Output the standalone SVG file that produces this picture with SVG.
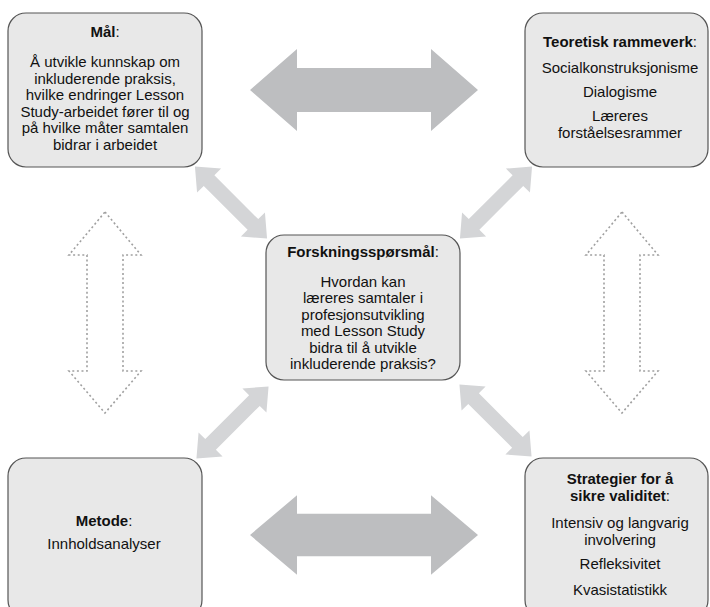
<svg xmlns="http://www.w3.org/2000/svg" width="710" height="607" viewBox="0 0 710 607">
<style>
.box{fill:#E8E8E8;stroke:#555;stroke-width:1.2}
text{font-family:"Liberation Sans",Arial,sans-serif;font-size:15px;fill:#111;text-anchor:middle}
.b{font-weight:bold}
.big{fill:#BDBEC0}
.diag{fill:#D4D5D7}
.dot{fill:none;stroke:#a0a0a0;stroke-width:1.6;stroke-dasharray:2 2.6}
</style>
<defs>
<polygon id="dArrow" points="-51,0 -31,-17 -31,-7.5 31,-7.5 31,-17 51,0 31,17 31,7.5 -31,7.5 -31,17"/>
<polygon id="hArrow" points="-114,0 -67,-41 -67,-22 67,-22 67,-41 114,0 67,41 67,22 -67,22 -67,41"/>
<polygon id="vDot" points="0,-100.5 36,-57.5 18,-57.5 18,58.5 36,58.5 0,100.5 -36,58.5 -18,58.5 -18,-57.5 -36,-57.5"/>
</defs>
<g id="connectors">
<use href="#hArrow" class="big" transform="translate(364,90)"/>
<use href="#hArrow" class="big" transform="translate(364,535) scale(1,0.97)"/>
<use href="#dArrow" class="diag" transform="translate(231,202.5) rotate(45)"/>
<use href="#dArrow" class="diag" transform="translate(496,202.5) rotate(-45)"/>
<use href="#dArrow" class="diag" transform="translate(232.5,422.5) rotate(-45)"/>
<use href="#dArrow" class="diag" transform="translate(495.5,420.5) rotate(45)"/>
<use href="#vDot" class="dot" transform="translate(105,312.5)"/>
<use href="#vDot" class="dot" transform="translate(622,312.5)"/>
</g>
<g id="mal">
<rect class="box" x="8" y="13" width="194" height="154" rx="18"/>
<text x="105" y="37"><tspan class="b">Mål</tspan>:</text>
<text x="105" y="67">Å utvikle kunnskap om</text>
<text x="105" y="83.5">inkluderende praksis,</text>
<text x="105" y="100">hvilke endringer Lesson</text>
<text x="105" y="116.5">Study-arbeidet fører til og</text>
<text x="105" y="133">på hvilke måter samtalen</text>
<text x="105" y="149.5">bidrar i arbeidet</text>
</g>
<g id="teori">
<rect class="box" x="525" y="13" width="183" height="154" rx="18"/>
<text x="620" y="47"><tspan class="b">Teoretisk rammeverk</tspan>:</text>
<text x="620" y="73">Socialkonstruksjonisme</text>
<text x="620" y="97">Dialogisme</text>
<text x="620" y="121">Læreres</text>
<text x="620" y="137.5">forståelsesrammer</text>
</g>
<g id="forskning">
<rect class="box" x="266" y="235" width="194" height="145" rx="18"/>
<text x="363" y="257"><tspan class="b">Forskningsspørsmål</tspan>:</text>
<text x="363" y="287">Hvordan kan</text>
<text x="363" y="303.4">læreres samtaler i</text>
<text x="363" y="319.8">profesjonsutvikling</text>
<text x="363" y="336.2">med Lesson Study</text>
<text x="363" y="352.6">bidra til å utvikle</text>
<text x="363" y="369">inkluderende praksis?</text>
</g>
<g id="metode">
<rect class="box" x="8" y="458" width="194" height="160" rx="18"/>
<text x="104" y="526"><tspan class="b">Metode</tspan>:</text>
<text x="104" y="549">Innholdsanalyser</text>
</g>
<g id="strategier">
<rect class="box" x="525" y="458" width="183" height="160" rx="18"/>
<text x="620" y="484" class="b">Strategier for å</text>
<text x="620" y="501"><tspan class="b">sikre validitet</tspan>:</text>
<text x="620" y="528">Intensiv og langvarig</text>
<text x="620" y="544.5">involvering</text>
<text x="620" y="569">Refleksivitet</text>
<text x="620" y="595">Kvasistatistikk</text>
</g>
</svg>
